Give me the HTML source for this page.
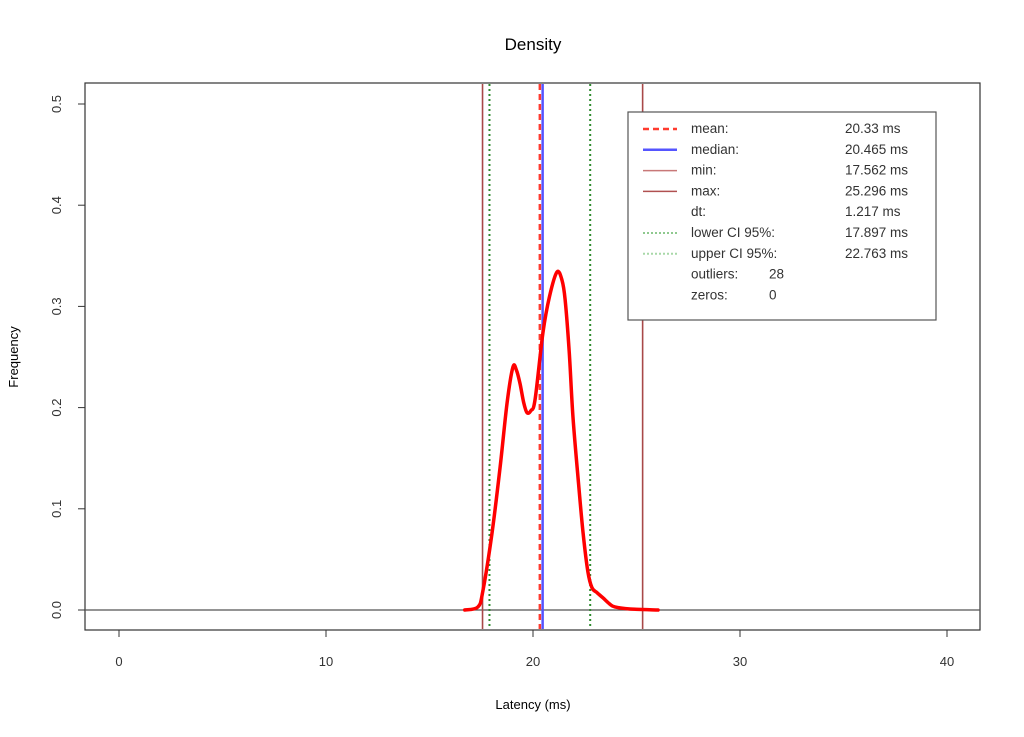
<!DOCTYPE html>
<html><head><meta charset="utf-8"><style>
body{margin:0;background:#fff;}
svg{display:block;font-family:"Liberation Sans",sans-serif;}
</style></head><body>
<svg id="chart" width="1024" height="737" viewBox="0 0 1024 737">
<text x="533" y="50" font-size="17" text-anchor="middle">Density</text>
<rect x="85" y="83" width="895" height="547" fill="none" stroke="#333" stroke-width="1.2"/>
<text x="533" y="709" font-size="13" text-anchor="middle">Latency (ms)</text>
<text transform="translate(18,357) rotate(-90)" font-size="13" text-anchor="middle">Frequency</text>
<g id="axes"></g>
<g id="marks"></g>
<g>
<rect x="628" y="112" width="308" height="208" fill="#fff" stroke="#555" stroke-width="1.2"/>
<g id="legend-rows" font-size="13.5" fill="#333"></g>
</g>
</svg>
<script>
const xTicks=[0,10,20,30,40];
const yTicks=[0.0,0.1,0.2,0.3,0.4,0.5];
const densX=[16.7,17.34,17.58,18.02,18.41,18.75,19.03,19.2,19.37,19.55,19.71,19.9,20.1,20.48,20.8,21.16,21.4,21.55,21.75,21.93,22.2,22.42,22.65,22.85,23.1,23.38,23.7,23.96,24.69,26.04];
const densY=[0,0.003,0.019,0.076,0.141,0.205,0.240,0.237,0.224,0.205,0.195,0.197,0.208,0.274,0.31,0.334,0.326,0.307,0.255,0.191,0.125,0.076,0.038,0.022,0.017,0.012,0.006,0.003,0.001,0];
const statNames=["mean","median","min","max","lowerCI","upperCI"];
const statVals=[20.33,20.465,17.562,25.296,17.897,22.763];
const legendLabels=["mean:","median:","min:","max:","dt:","lower CI 95%:","upper CI 95%:","outliers:","zeros:"];
const legendValues=["20.33 ms","20.465 ms","17.562 ms","25.296 ms","1.217 ms","17.897 ms","22.763 ms","28","0"];

const NS="http://www.w3.org/2000/svg";
const xs=v=>119+v*20.7, ys=v=>610-v*1012;
function mk(tag,attrs,parent){const e=document.createElementNS(NS,tag);for(const k in attrs)e.setAttribute(k,attrs[k]);parent.appendChild(e);return e;}
const axes=document.getElementById('axes'), marks=document.getElementById('marks');
mk('line',{x1:xs(0),x2:xs(40),y1:630,y2:630,stroke:'#333'},axes);
xTicks.forEach(t=>{
  const l=mk('line',{x1:xs(t),x2:xs(t),y1:630,y2:637,stroke:'#333'},axes);
  
  
  const tx=mk('text',{x:xs(t),y:666,'font-size':13,'text-anchor':'middle',fill:'#333'},axes);tx.textContent=t;
  
  
});
mk('line',{x1:85,x2:85,y1:ys(0),y2:ys(0.5),stroke:'#333'},axes);
yTicks.forEach(t=>{
  const l=mk('line',{x1:78,x2:85,y1:ys(t),y2:ys(t),stroke:'#333'},axes);
  
  
  const tx=mk('text',{transform:`translate(61,${ys(t)}) rotate(-90)`,'font-size':13,'text-anchor':'middle',fill:'#333'},axes);tx.textContent=t.toFixed(1);
  
  
});
const zl=mk('line',{x1:85,x2:980,y1:ys(0),y2:ys(0),stroke:'#555','stroke-width':1.2},marks);


const styles={mean:{stroke:'#ff3b2f',dash:'6,4',w:2.5},median:{stroke:'#5555ff',dash:'',w:2.5},min:{stroke:'#a84848',dash:'',w:1.6},max:{stroke:'#a84848',dash:'',w:1.6},lowerCI:{stroke:'#2e8b2e',dash:'2,3',w:2},upperCI:{stroke:'#2e8b2e',dash:'2,3',w:2}};
const order=[2,3,4,5,1,0];
order.forEach(i=>{
  const s=styles[statNames[i]];
  const l=mk('line',{x1:xs(statVals[i]),x2:xs(statVals[i]),y1:84,y2:629,stroke:s.stroke,'stroke-width':s.w,'stroke-dasharray':s.dash},marks);
  
  
});
const pts=densX.map((x,i)=>[xs(x),ys(densY[i])]);
let d=`M${pts[0][0]},${pts[0][1]}`;
for(let i=0;i<pts.length-1;i++){const p0=pts[Math.max(0,i-1)],p1=pts[i],p2=pts[i+1],p3=pts[Math.min(pts.length-1,i+2)];
 d+=` C${p1[0]+(p2[0]-p0[0])/6},${p1[1]+(p2[1]-p0[1])/6} ${p2[0]-(p3[0]-p1[0])/6},${p2[1]-(p3[1]-p1[1])/6} ${p2[0]},${p2[1]}`;}
const c=mk('path',{d:d,fill:'none',stroke:'#ff0000','stroke-width':3.5,'stroke-linejoin':'round','stroke-linecap':'round'},marks);


const lg=document.getElementById('legend-rows');
const legSty=[styles.mean,styles.median,{stroke:'#c87878',dash:'',w:1.5},{stroke:'#b05050',dash:'',w:1.5},null,{stroke:'#8fc98f',dash:'2,2',w:2},{stroke:'#a8d8a8',dash:'2,2',w:2},null,null];
legendLabels.forEach((lab,i)=>{
  const y=133+i*20.8;
  if(legSty[i]){const s=legSty[i];const l=mk('line',{x1:643,x2:677,y1:y-4,y2:y-4,stroke:s.stroke,'stroke-width':s.w,'stroke-dasharray':s.dash},lg);
    
    }
  const t=mk('text',{x:691,y:y},lg);t.textContent=lab;
  
  
  const v=mk('text',{x:i>=7?769:845,y:y},lg);v.textContent=legendValues[i];
  
  
});
</script>
</body></html>
